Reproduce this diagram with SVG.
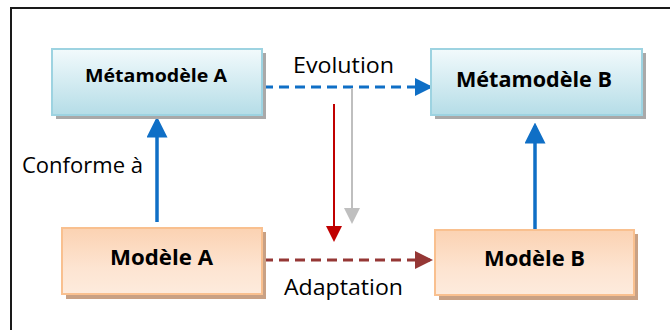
<svg xmlns="http://www.w3.org/2000/svg" width="670" height="330" viewBox="0 0 670 330">
  <style>
    .lbl { font-family: "Open Sans", "Liberation Sans", sans-serif; font-size: 21px; fill: #000; }
    .node-text { font-family: "Open Sans", "Liberation Sans", sans-serif; font-weight: bold; fill: #000; }
    .meta { fill: url(#gBlue); stroke: #9dd3e1; stroke-width: 2; }
    .model { fill: url(#gPeach); stroke: #f9c08f; stroke-width: 2; }
    .shadow-blue { fill: #a9a9a9; }
    .shadow-peach { fill: #c9a184; }
  </style>
  <defs>
    <linearGradient id="gBlue" x1="0" y1="0" x2="0" y2="1">
      <stop offset="0" stop-color="#f2fafc"/>
      <stop offset="1" stop-color="#b5dde7"/>
    </linearGradient>
    <linearGradient id="gPeach" x1="0" y1="0" x2="0" y2="1">
      <stop offset="0" stop-color="#fbd2b2"/>
      <stop offset="0.6" stop-color="#fde4d1"/>
      <stop offset="1" stop-color="#fdebdd"/>
    </linearGradient>
    <marker id="arrBlue" markerWidth="6" markerHeight="6" refX="5" refY="3" orient="auto" markerUnits="strokeWidth">
      <path d="M0,0 L6,3 L0,6 Z" fill="#0f6fc6"/>
    </marker>
    <marker id="arrBrown" markerWidth="6" markerHeight="6" refX="5" refY="3" orient="auto" markerUnits="strokeWidth">
      <path d="M0,0 L6,3 L0,6 Z" fill="#953735"/>
    </marker>
    <marker id="arrRed" markerWidth="8" markerHeight="8" refX="7" refY="4" orient="auto" markerUnits="strokeWidth">
      <path d="M0,0 L8,4 L0,8 Z" fill="#c00000"/>
    </marker>
    <marker id="arrGray" markerWidth="8" markerHeight="8" refX="7" refY="4" orient="auto" markerUnits="strokeWidth">
      <path d="M0,0 L8,4 L0,8 Z" fill="#bfbfbf"/>
    </marker>
  </defs>

  <rect width="670" height="330" fill="#fff"/>
  <!-- frame -->
  <path d="M11,332 L11,8 L670,8" fill="none" stroke="#1a1a1a" stroke-width="2"/>

  <!-- connectors -->
  <g id="connectors">
    <line x1="157" y1="222" x2="157" y2="120" stroke="#0f6fc6" stroke-width="3.5" marker-end="url(#arrBlue)"/>
    <line x1="535" y1="230" x2="535" y2="126" stroke="#0f6fc6" stroke-width="3.5" marker-end="url(#arrBlue)"/>
    <line x1="263" y1="87" x2="430" y2="87" stroke="#0f6fc6" stroke-width="3" stroke-dasharray="10 6" marker-end="url(#arrBlue)"/>
    <line x1="263" y1="260" x2="430" y2="260" stroke="#953735" stroke-width="3" stroke-dasharray="10 6" marker-end="url(#arrBrown)"/>
    <line x1="352" y1="88" x2="352" y2="222" stroke="#bfbfbf" stroke-width="2" marker-end="url(#arrGray)"/>
    <line x1="334" y1="104" x2="334" y2="240" stroke="#c00000" stroke-width="2" marker-end="url(#arrRed)"/>
  </g>

  <!-- connector labels -->
  <text class="lbl" x="293" y="73" textLength="101" lengthAdjust="spacingAndGlyphs">Evolution</text>
  <text class="lbl" x="284" y="295" textLength="119" lengthAdjust="spacingAndGlyphs">Adaptation</text>
  <text class="lbl" x="22" y="173" textLength="121" lengthAdjust="spacingAndGlyphs">Conforme à</text>

  <g id="metamodele-a">
    <rect class="shadow-blue" x="56" y="53" width="210" height="66"/>
    <rect class="meta" x="52" y="49" width="210" height="66"/>
    <text class="node-text" x="85" y="82" font-size="18" textLength="142" lengthAdjust="spacingAndGlyphs">Métamodèle A</text>
  </g>
  <g id="metamodele-b">
    <rect class="shadow-blue" x="435" y="53" width="211" height="66"/>
    <rect class="meta" x="431" y="49" width="211" height="66"/>
    <text class="node-text" x="456" y="87" font-size="21" textLength="156" lengthAdjust="spacingAndGlyphs">Métamodèle B</text>
  </g>
  <g id="modele-a">
    <rect class="shadow-peach" x="66" y="232" width="200" height="67"/>
    <rect class="model" x="62" y="228" width="200" height="66"/>
    <text class="node-text" x="110" y="265" font-size="21" textLength="103" lengthAdjust="spacingAndGlyphs">Modèle A</text>
  </g>
  <g id="modele-b">
    <rect class="shadow-peach" x="439" y="234" width="199" height="66"/>
    <rect class="model" x="435" y="230" width="199" height="65"/>
    <text class="node-text" x="484" y="266" font-size="21" textLength="101" lengthAdjust="spacingAndGlyphs">Modèle B</text>
  </g>
</svg>
